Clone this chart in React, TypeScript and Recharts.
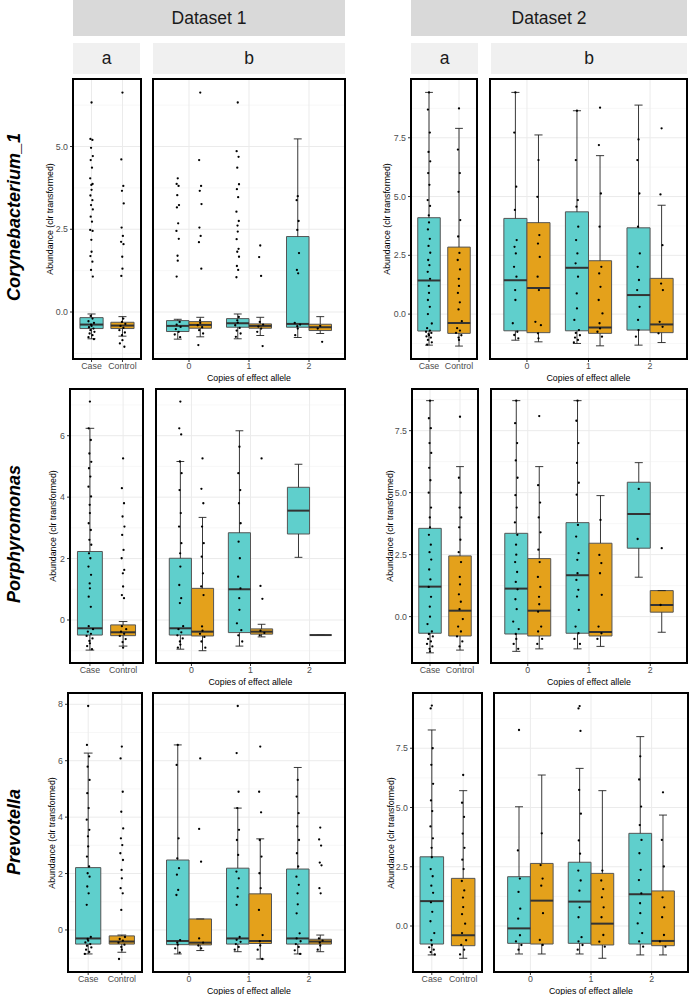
import React from 'react';
import { ComposedChart, XAxis, YAxis, CartesianGrid, Scatter, ReferenceArea, ReferenceLine } from 'recharts';

const FONT = '"Liberation Sans", Arial, Helvetica, sans-serif';
const TEAL = '#5FCFCC';
const ORANGE = '#E4A11B';

type Group = { pos: number | string; grp: 'Case' | 'Control'; stats: number[]; pts: number[] };
// stats = [lower whisker, q1, median, q3, upper whisker]

// ---------- Corynebacterium_1 ----------
const cory1A: Group[] = [
  { pos: 'Case', grp: 'Case', stats: [-0.81, -0.5, -0.38, -0.17, -0.06], pts: [6.33, 5.23, 5.2, 4.96, 4.71, 4.59, 4.36, 4.04, 3.87, 3.84, 3.69, 3.52, 3.38, 3.23, 3.1, 2.88, 2.73, 2.48, 2.45, 2.18, 1.82, 1.69, 1.52, 1.27, 1.07, -0.12, -0.2, -0.28, -0.33, -0.38, -0.42, -0.46, -0.5, -0.55, -0.6, -0.65, -0.7, -0.76, -0.82] },
  { pos: 'Control', grp: 'Control', stats: [-0.73, -0.5, -0.41, -0.31, -0.14], pts: [6.63, 4.61, 3.81, 3.66, 3.28, 2.55, 2.3, 2.12, 2.05, 1.67, 1.31, 1.09, -0.2, -0.3, -0.36, -0.42, -0.48, -0.55, -0.62, -0.7, -0.85, -0.95, -1.05] },
];
const cory1B: Group[] = [
  { pos: 0, grp: 'Case', stats: [-0.82, -0.59, -0.42, -0.26, -0.22], pts: [4.04, 3.87, 3.81, 3.53, 3.23, 3.16, 2.68, 2.45, 2.21, 1.7, 1.55, 1.07, -0.3, -0.38, -0.45, -0.52, -0.6, -0.68, -0.76] },
  { pos: 0, grp: 'Control', stats: [-0.75, -0.49, -0.39, -0.29, -0.16], pts: [6.63, 4.59, 3.81, 3.66, 3.26, 2.55, 2.3, 2.11, 1.31, -0.25, -0.33, -0.4, -0.46, -0.55, -0.65, -1.0] },
  { pos: 1, grp: 'Case', stats: [-0.81, -0.46, -0.34, -0.2, -0.06], pts: [6.33, 4.86, 4.69, 4.36, 3.86, 3.71, 3.47, 3.03, 2.75, 2.61, 2.43, 2.2, 1.91, 1.82, 1.67, 1.39, 1.27, 1.05, -0.15, -0.25, -0.32, -0.4, -0.48, -0.56, -0.65, -0.75] },
  { pos: 1, grp: 'Control', stats: [-0.71, -0.49, -0.42, -0.36, -0.16], pts: [2.01, 1.66, 1.09, -0.3, -0.38, -0.44, -0.5, -0.6, -1.03] },
  { pos: 2, grp: 'Case', stats: [-0.77, -0.46, -0.36, 2.28, 5.23], pts: [3.5, 3.38, 2.75, 2.48, 1.78, 1.27, 1.17, -0.33, -0.38, -0.43, -0.5, -0.7] },
  { pos: 2, grp: 'Control', stats: [-0.65, -0.56, -0.46, -0.37, -0.14], pts: [-0.42, -0.5, -0.9] },
];
const cory2A: Group[] = [
  { pos: 'Case', grp: 'Case', stats: [-1.32, -0.72, 1.43, 4.1, 9.43], pts: [9.43, 8.7, 7.72, 6.9, 6.5, 6.0, 5.5, 4.85, 4.6, 4.2, 3.9, 3.6, 3.2, 2.9, 2.61, 2.3, 2.08, 1.8, 1.5, 1.2, 0.9, 0.6, 0.31, 0.0, -0.4, -0.6, -0.7, -0.75, -0.8, -0.85, -0.9, -0.95, -1.0, -1.1, -1.2, -1.3] },
  { pos: 'Control', grp: 'Control', stats: [-1.36, -0.82, -0.38, 2.85, 7.9], pts: [8.75, 7.0, 6.0, 5.2, 4.0, 3.3, 2.6, 2.3, 1.9, 1.5, 1.2, 0.9, 0.5, 0.2, -0.3, -0.6, -0.7, -0.8, -0.9, -1.0, -1.1] },
];
const cory2B: Group[] = [
  { pos: 0, grp: 'Case', stats: [-1.11, -0.71, 1.44, 4.07, 9.43], pts: [9.43, 7.72, 5.42, 4.43, 3.15, 2.86, 2.58, 2.01, 1.59, 1.02, 0.6, -0.39, -0.75, -0.89, -1.03] },
  { pos: 0, grp: 'Control', stats: [-1.18, -0.79, 1.11, 3.89, 7.62], pts: [6.55, 4.99, 3.36, 3.0, 2.43, 1.59, 1.02, -0.33, -0.47, -0.82, -1.03] },
  { pos: 1, grp: 'Case', stats: [-1.25, -0.71, 1.97, 4.35, 8.65], pts: [8.65, 6.55, 4.85, 4.57, 3.72, 3.15, 2.58, 2.16, 1.59, 0.88, 0.24, -0.25, -0.68, -0.8, -0.9, -1.0, -1.1, -1.2] },
  { pos: 1, grp: 'Control', stats: [-1.35, -0.82, -0.57, 2.27, 6.74], pts: [8.78, 7.19, 5.13, 3.72, 2.01, 1.73, 1.16, 0.6, 0.03, -0.39, -0.61, -0.75, -0.96] },
  { pos: 2, grp: 'Case', stats: [-1.32, -0.68, 0.81, 3.67, 8.89], pts: [7.43, 6.55, 5.13, 3.72, 2.58, 2.01, 1.45, 1.02, 0.31, -0.25, -0.68, -0.96] },
  { pos: 2, grp: 'Control', stats: [-1.21, -0.79, -0.44, 1.52, 4.63], pts: [7.9, 5.09, 2.93, 1.3, 1.02, -0.33, -0.54, -0.82] },
];

// ---------- Porphyromonas ----------
const porph1A: Group[] = [
  { pos: 'Case', grp: 'Case', stats: [-0.98, -0.49, -0.27, 2.23, 6.24], pts: [7.11, 6.24, 5.86, 5.42, 5.15, 4.94, 4.67, 4.34, 4.02, 3.75, 3.48, 3.15, 2.93, 2.61, 2.45, 2.17, 2.01, 1.74, 1.47, 1.19, 1.03, 0.76, 0.43, -0.2, -0.3, -0.38, -0.45, -0.52, -0.6, -0.68, -0.76, -0.85, -0.95] },
  { pos: 'Control', grp: 'Control', stats: [-0.85, -0.51, -0.4, -0.16, -0.05], pts: [5.26, 4.29, 3.8, 3.37, 3.04, 2.77, 2.28, 2.01, 1.63, 1.52, 1.09, 0.81, 0.71, -0.2, -0.3, -0.38, -0.45, -0.52, -0.62, -0.72, -0.9] },
];
const porph1B: Group[] = [
  { pos: 0, grp: 'Case', stats: [-0.95, -0.49, -0.27, 2.01, 5.16], pts: [7.11, 6.24, 6.04, 5.16, 4.78, 4.23, 3.48, 3.04, 2.5, 2.17, 1.74, 1.14, 0.71, 0.55, -0.2, -0.3, -0.4, -0.5, -0.6, -0.7, -0.8, -0.9] },
  { pos: 0, grp: 'Control', stats: [-1.0, -0.52, -0.38, 1.03, 3.34], pts: [5.26, 4.27, 3.8, 3.04, 2.5, 2.06, 1.52, 1.09, 0.81, -0.21, -0.35, -0.45, -0.55, -0.7, -0.9] },
  { pos: 1, grp: 'Case', stats: [-0.85, -0.41, 1.0, 2.84, 6.16], pts: [5.64, 4.78, 4.23, 3.8, 3.15, 2.55, 2.01, 1.41, 1.03, 0.71, 0.33, -0.11, -0.33, -0.5, -0.7] },
  { pos: 1, grp: 'Control', stats: [-0.55, -0.46, -0.38, -0.29, -0.14], pts: [5.26, 1.11, 0.69, -0.35, -0.42, -0.5] },
  { pos: 2, grp: 'Case', stats: [2.04, 2.8, 3.56, 4.32, 5.07], pts: [] },
  { pos: 2, grp: 'Control', stats: [-0.49, -0.49, -0.49, -0.49, -0.49], pts: [] },
];
const porph2A: Group[] = [
  { pos: 'Case', grp: 'Case', stats: [-1.46, -0.67, 1.21, 3.56, 8.71], pts: [8.71, 8.0, 7.6, 7.0, 6.6, 6.0, 5.5, 5.0, 4.4, 4.0, 3.6, 3.3, 2.9, 2.6, 2.3, 1.9, 1.5, 1.2, 0.8, 0.4, 0.0, -0.3, -0.6, -0.7, -0.8, -0.9, -1.0, -1.1, -1.2, -1.3, -1.4] },
  { pos: 'Control', grp: 'Control', stats: [-1.35, -0.78, 0.24, 2.45, 6.05], pts: [8.06, 5.6, 5.0, 4.4, 4.0, 3.6, 3.1, 2.6, 2.2, 1.6, 1.3, 0.9, 0.6, 0.3, -0.1, -0.4, -0.6, -0.8, -1.0, -1.2] },
];
const porph2B: Group[] = [
  { pos: 0, grp: 'Case', stats: [-1.4, -0.7, 1.13, 3.36, 8.71], pts: [8.71, 7.8, 7.0, 6.3, 5.6, 4.9, 4.4, 3.8, 3.3, 2.9, 2.5, 2.2, 1.8, 1.4, 1.1, 0.7, 0.3, -0.2, -0.5, -0.7, -0.9, -1.1, -1.3] },
  { pos: 0, grp: 'Control', stats: [-1.3, -0.78, 0.24, 2.34, 6.05], pts: [8.09, 5.3, 4.6, 4.0, 3.4, 2.7, 2.2, 1.6, 1.2, 0.8, 0.5, 0.2, -0.4, -0.6, -0.9, -1.1] },
  { pos: 1, grp: 'Case', stats: [-1.3, -0.67, 1.67, 3.79, 8.71], pts: [8.71, 7.9, 7.0, 6.2, 5.4, 4.92, 3.7, 3.23, 2.56, 2.29, 1.75, 1.48, 1.08, 0.81, 0.27, -0.4, -0.67, -0.9, -1.1] },
  { pos: 1, grp: 'Control', stats: [-1.2, -0.78, -0.62, 2.96, 4.88], pts: [3.9, 2.49, 2.16, 1.75, 0.88, -0.4, -0.67, -0.9] },
  { pos: 2, grp: 'Case', stats: [1.59, 2.76, 4.14, 5.42, 6.21], pts: [5.15, 3.13] },
  { pos: 2, grp: 'Control', stats: [-0.63, 0.18, 0.47, 1.05, 1.05], pts: [2.76, 0.47] },
];

// ---------- Prevotella ----------
const prev1A: Group[] = [
  { pos: 'Case', grp: 'Case', stats: [-0.85, -0.5, -0.3, 2.21, 6.27], pts: [7.94, 6.56, 6.15, 5.79, 5.32, 4.85, 4.32, 3.91, 3.55, 3.32, 2.96, 2.6, 2.25, 2.01, 1.89, 1.54, 1.3, 0.89, -0.25, -0.32, -0.38, -0.44, -0.5, -0.56, -0.62, -0.7, -0.78, -0.85] },
  { pos: 'Control', grp: 'Control', stats: [-0.79, -0.5, -0.41, -0.21, -0.18], pts: [6.5, 6.08, 4.9, 4.19, 3.6, 3.25, 3.01, 2.72, 2.48, 2.13, 1.83, 1.48, 1.3, 0.71, -0.25, -0.32, -0.38, -0.45, -0.52, -0.6, -0.7, -1.03] },
];
const prev1B: Group[] = [
  { pos: 0, grp: 'Case', stats: [-0.85, -0.52, -0.39, 2.48, 6.56], pts: [6.56, 5.85, 3.25, 2.54, 2.19, 1.96, 1.42, 1.24, -0.36, -0.45, -0.52, -0.65, -0.8] },
  { pos: 0, grp: 'Control', stats: [-0.73, -0.53, -0.45, 0.39, 0.39], pts: [6.08, 3.58, 2.42, -0.3, -0.45, -0.55, -0.65] },
  { pos: 1, grp: 'Case', stats: [-0.77, -0.5, -0.3, 2.19, 4.32], pts: [7.94, 6.27, 4.9, 4.32, 3.55, 3.19, 2.66, 2.07, 1.83, 1.48, 1.18, 0.89, -0.25, -0.35, -0.42, -0.5, -0.6, -0.7] },
  { pos: 1, grp: 'Control', stats: [-1.03, -0.48, -0.39, 1.28, 3.23], pts: [6.5, 4.9, 4.17, 3.19, 2.6, 2.01, 1.48, 0.71, -0.18, -0.4, -0.55, -0.7, -1.03] },
  { pos: 2, grp: 'Case', stats: [-0.85, -0.5, -0.3, 2.16, 5.76], pts: [5.32, 4.73, 4.14, 3.67, 3.19, 2.72, 2.25, 1.89, 1.6, 1.3, 0.91, 0.59, -0.12, -0.3, -0.4, -0.5, -0.6, -0.72, -0.85] },
  { pos: 2, grp: 'Control', stats: [-0.77, -0.5, -0.41, -0.33, -0.18], pts: [3.63, 3.21, 2.99, 2.39, 2.29, 1.48, 1.3, -0.3, -0.38, -0.45, -0.55, -0.7] },
];
const prev2A: Group[] = [
  { pos: 'Case', grp: 'Case', stats: [-1.22, -0.76, 1.05, 2.92, 8.27], pts: [9.3, 9.18, 7.5, 6.8, 6.0, 5.3, 4.85, 4.2, 3.7, 3.3, 2.9, 2.4, 2.1, 1.7, 1.4, 1.0, 0.6, 0.2, -0.3, -0.6, -0.8, -0.9, -1.0, -1.1, -1.2] },
  { pos: 'Control', grp: 'Control', stats: [-1.36, -0.83, -0.39, 2.01, 5.71], pts: [6.37, 5.2, 4.6, 3.9, 3.3, 2.8, 2.4, 1.9, 1.5, 1.2, 0.8, 0.5, 0.1, -0.3, -0.6, -0.8, -1.0, -1.2] },
];
const prev2B: Group[] = [
  { pos: 0, grp: 'Case', stats: [-1.18, -0.73, -0.1, 2.08, 5.03], pts: [8.27, 3.19, 2.0, 1.44, 0.73, 0.31, -0.39, -0.65, -0.8, -1.0] },
  { pos: 0, grp: 'Control', stats: [-1.18, -0.76, 1.07, 2.64, 6.37], pts: [3.91, 2.57, 2.0, 1.7, 0.54, -0.59, -0.8] },
  { pos: 1, grp: 'Case', stats: [-1.18, -0.73, 1.03, 2.69, 6.65], pts: [9.28, 9.18, 8.23, 5.74, 4.74, 3.61, 3.05, 2.34, 1.92, 1.49, 0.79, 0.37, -0.47, -0.65, -0.8, -1.0] },
  { pos: 1, grp: 'Control', stats: [-1.36, -0.8, 0.1, 2.22, 5.71], pts: [2.34, 1.92, 1.56, 1.21, 0.79, 0.37, -0.38, -0.66, -0.87] },
  { pos: 2, grp: 'Case', stats: [-1.22, -0.76, 1.34, 3.91, 7.99], pts: [7.16, 6.18, 5.04, 4.26, 3.63, 3.07, 2.37, 1.94, 1.38, 0.96, 0.54, 0.11, -0.3, -0.65, -0.87] },
  { pos: 2, grp: 'Control', stats: [-1.22, -0.83, -0.63, 1.48, 4.68], pts: [5.64, 3.63, 2.51, 1.21, 0.79, 0.37, -0.38, -0.65, -0.87] },
];

// ---------- axis tick values ----------
const ticksD1r1 = [0, 2.5, 5];
const minorD1r1 = [-1.25, 1.25, 3.75, 6.25];
const ticksInt = [0, 2, 4, 6];
const ticksInt8 = [0, 2, 4, 6, 8];
const minorInt = [-1, 1, 3, 5, 7];
const ticksD2 = [0, 2.5, 5, 7.5];
const minorD2 = [-1.25, 1.25, 3.75, 6.25, 8.75];
const catLabels = ['Case', 'Control'];
const alleleTicks = [0, 1, 2];
const datasetNames = ['Dataset 1', 'Dataset 2'];
const genusNames = ['Corynebacterium_1', 'Porphyromonas', 'Prevotella'];

const DODGE = 0.1875;
// small fixed horizontal spread of the overplotted points (fraction of the cap half-width)
const SPREAD = [0, -0.8, 0.6, -0.35, 0.9, -0.6, 0.3, -0.95, 0.75, -0.15];

type YCfg = { domain: number[]; major: number[]; minor: number[]; dec: number };

type PanelProps = {
  left: number; top: number; w: number; h: number; kind: 'a' | 'b';
  groups: Group[]; y: YCfg; showY: boolean;
};

const Dot = (p: any) => <circle cx={p.cx} cy={p.cy} r={1.15} fill="#000" />;

function Panel({ left, top, w, h, kind, groups, y, showY }: PanelProps) {
  const yw = showY ? 40 : 0;
  const xh = 16;
  const xDomain = kind === 'a' ? [0.4, 2.6] : [-0.6, 2.6];
  const xTicks = kind === 'a' ? [1, 2] : alleleTicks;
  const hw = kind === 'a' ? 0.375 : 0.1875;
  const cap = kind === 'a' ? 0.13 : 0.066;
  const placed = groups.map((g) => ({
    ...g,
    cx: kind === 'a' ? (g.pos === 'Case' ? 1 : 2) : (g.pos as number) + (g.grp === 'Case' ? -DODGE : DODGE),
  }));
  const pts = placed.flatMap((g) =>
    g.pts.map((v, i) => ({ x: g.cx + SPREAD[i % SPREAD.length] * cap * (v < g.stats[3] && v < 0.2 ? 0.8 : 0.35), y: v })),
  );
  const tickStyle = { fontSize: 8.8, fill: '#4D4D4D', fontFamily: FONT };
  return (
    <>
      <div style={{ position: 'absolute', left: left - yw, top }}>
        <ComposedChart width={w + yw} height={h + xh} margin={{ top: 0, right: 0, bottom: 0, left: 0 }}>
          <CartesianGrid horizontalValues={y.minor} vertical={false} stroke="#F2F2F2" strokeWidth={0.6} />
          <CartesianGrid horizontalValues={y.major} verticalValues={xTicks} stroke="#EBEBEB" strokeWidth={1} />
          <XAxis
            type="number" dataKey="x" domain={xDomain} ticks={xTicks} allowDataOverflow interval={0}
            height={xh} axisLine={false} tickSize={3} tickMargin={1}
            tickLine={{ stroke: '#333' }} tick={tickStyle}
            tickFormatter={(v: number) => (kind === 'a' ? catLabels[v - 1] : String(v))}
          />
          <YAxis
            type="number" dataKey="y" domain={y.domain} ticks={y.major} allowDataOverflow interval={0}
            hide={!showY} width={yw} axisLine={false} tickSize={3} tickMargin={2}
            tickLine={{ stroke: '#333' }} tick={tickStyle}
            tickFormatter={(v: number) => v.toFixed(y.dec)}
          />
          {placed.map((g, i) => (
            <ReferenceArea
              key={'box' + i} x1={g.cx - hw} x2={g.cx + hw} y1={g.stats[1]} y2={g.stats[3]}
              fill={g.grp === 'Case' ? TEAL : ORANGE} fillOpacity={1} stroke="#555" strokeWidth={1} ifOverflow="visible"
            />
          ))}
          {placed.map((g, i) => (
            <ReferenceLine key={'wu' + i} segment={[{ x: g.cx, y: g.stats[3] }, { x: g.cx, y: g.stats[4] }]} stroke="#222" strokeWidth={0.9} ifOverflow="visible" />
          ))}
          {placed.map((g, i) => (
            <ReferenceLine key={'wl' + i} segment={[{ x: g.cx, y: g.stats[0] }, { x: g.cx, y: g.stats[1] }]} stroke="#222" strokeWidth={0.9} ifOverflow="visible" />
          ))}
          {placed.map((g, i) => (
            <ReferenceLine key={'cu' + i} segment={[{ x: g.cx - cap, y: g.stats[4] }, { x: g.cx + cap, y: g.stats[4] }]} stroke="#222" strokeWidth={0.9} ifOverflow="visible" />
          ))}
          {placed.map((g, i) => (
            <ReferenceLine key={'cl' + i} segment={[{ x: g.cx - cap, y: g.stats[0] }, { x: g.cx + cap, y: g.stats[0] }]} stroke="#222" strokeWidth={0.9} ifOverflow="visible" />
          ))}
          {placed.map((g, i) => (
            <ReferenceLine key={'md' + i} segment={[{ x: g.cx - hw, y: g.stats[2] }, { x: g.cx + hw, y: g.stats[2] }]} stroke="#333" strokeWidth={2} ifOverflow="visible" />
          ))}
          <Scatter data={pts} fill="#000" shape={Dot} isAnimationActive={false} />
        </ComposedChart>
      </div>
      <div
        style={{
          position: 'absolute', left: left - 1, top: top - 1, width: w + 2, height: h + 2,
          border: '2px solid #000', boxSizing: 'border-box', pointerEvents: 'none',
        }}
      />
      {kind === 'b' && (
        <div
          style={{
            position: 'absolute', left, top: top + h + 14, width: w, textAlign: 'center',
            fontSize: 8.8, lineHeight: '10px', fontFamily: FONT, color: '#000',
          }}
        >
          Copies of effect allele
        </div>
      )}
    </>
  );
}

const Rot = ({ x, y, size, bold, italic, children }: any) => (
  <div
    style={{
      position: 'absolute', left: x, top: y, transform: 'translate(-50%, -50%) rotate(-90deg)',
      whiteSpace: 'nowrap', fontFamily: FONT, fontSize: size, fontWeight: bold ? 'bold' : 'normal',
      fontStyle: italic ? 'italic' : 'normal', lineHeight: 1, color: '#000',
    }}
  >
    {children}
  </div>
);

const Strip = ({ left, top, w, h, bg, size, text }: any) => (
  <div
    style={{
      position: 'absolute', left, top, width: w, height: h, background: bg, display: 'flex',
      alignItems: 'center', justifyContent: 'center', fontFamily: FONT, fontSize: size, color: '#1A1A1A',
    }}
  >
    {text}
  </div>
);

type RowCfg = {
  top: number; h: number; labelY: number;
  p: number[][]; // [left, width] for D1a, D1b, D2a, D2b
  data: Group[][];
  y1: YCfg; y2: YCfg;
  t1: number; t2: number;
};

const rows: RowCfg[] = [
  {
    top: 79, h: 280, labelY: 217,
    p: [[73, 68], [153, 192], [411, 66], [490, 197]],
    data: [cory1A, cory1B, cory2A, cory2B],
    y1: { domain: [-1.42, 7.04], major: ticksD1r1, minor: minorD1r1, dec: 1 },
    y2: { domain: [-1.91, 10.0], major: ticksD2, minor: minorD2, dec: 1 },
    t1: 49.5, t2: 387,
  },
  {
    top: 389, h: 274, labelY: 534,
    p: [[70, 73], [156, 189], [412, 66], [491, 196]],
    data: [porph1A, porph1B, porph2A, porph2B],
    y1: { domain: [-1.4, 7.52], major: ticksInt, minor: minorInt, dec: 0 },
    y2: { domain: [-1.87, 9.18], major: ticksD2, minor: minorD2, dec: 1 },
    t1: 53, t2: 390,
  },
  {
    top: 693, h: 279, labelY: 832,
    p: [[68, 74], [153, 192], [413, 69], [494, 194]],
    data: [prev1A, prev1B, prev2A, prev2B],
    y1: { domain: [-1.49, 8.4], major: ticksInt8, minor: minorInt, dec: 0 },
    y2: { domain: [-1.94, 9.83], major: ticksD2, minor: minorD2, dec: 1 },
    t1: 52, t2: 391,
  },
];

export default function App() {
  return (
    <div style={{ position: 'absolute', left: 0, top: 0, width: 691, height: 995, background: '#fff', overflow: 'hidden' }}>
      <Strip left={73} top={0} w={272} h={36} bg="#D9D9D9" size={17.5} text={datasetNames[0]} />
      <Strip left={411} top={0} w={276} h={36} bg="#D9D9D9" size={17.5} text={datasetNames[1]} />
      <Strip left={73} top={43} w={67} h={31} bg="#F0F0F0" size={17.5} text="a" />
      <Strip left={153} top={43} w={192} h={31} bg="#F0F0F0" size={17.5} text="b" />
      <Strip left={411} top={43} w={67} h={31} bg="#F0F0F0" size={17.5} text="a" />
      <Strip left={491} top={43} w={196} h={31} bg="#F0F0F0" size={17.5} text="b" />
      {rows.map((r, ri) => (
        <React.Fragment key={ri}>
          <Rot x={14} y={r.labelY} size={18} bold italic>{genusNames[ri]}</Rot>
          <Rot x={r.t1} y={r.top + r.h / 2} size={8.8}>Abundance (clr transformed)</Rot>
          <Rot x={r.t2} y={r.top + r.h / 2} size={8.8}>Abundance (clr transformed)</Rot>
          <Panel left={r.p[0][0]} top={r.top} w={r.p[0][1]} h={r.h} kind="a" groups={r.data[0]} y={r.y1} showY />
          <Panel left={r.p[1][0]} top={r.top} w={r.p[1][1]} h={r.h} kind="b" groups={r.data[1]} y={r.y1} showY={false} />
          <Panel left={r.p[2][0]} top={r.top} w={r.p[2][1]} h={r.h} kind="a" groups={r.data[2]} y={r.y2} showY />
          <Panel left={r.p[3][0]} top={r.top} w={r.p[3][1]} h={r.h} kind="b" groups={r.data[3]} y={r.y2} showY={false} />
        </React.Fragment>
      ))}
    </div>
  );
}
